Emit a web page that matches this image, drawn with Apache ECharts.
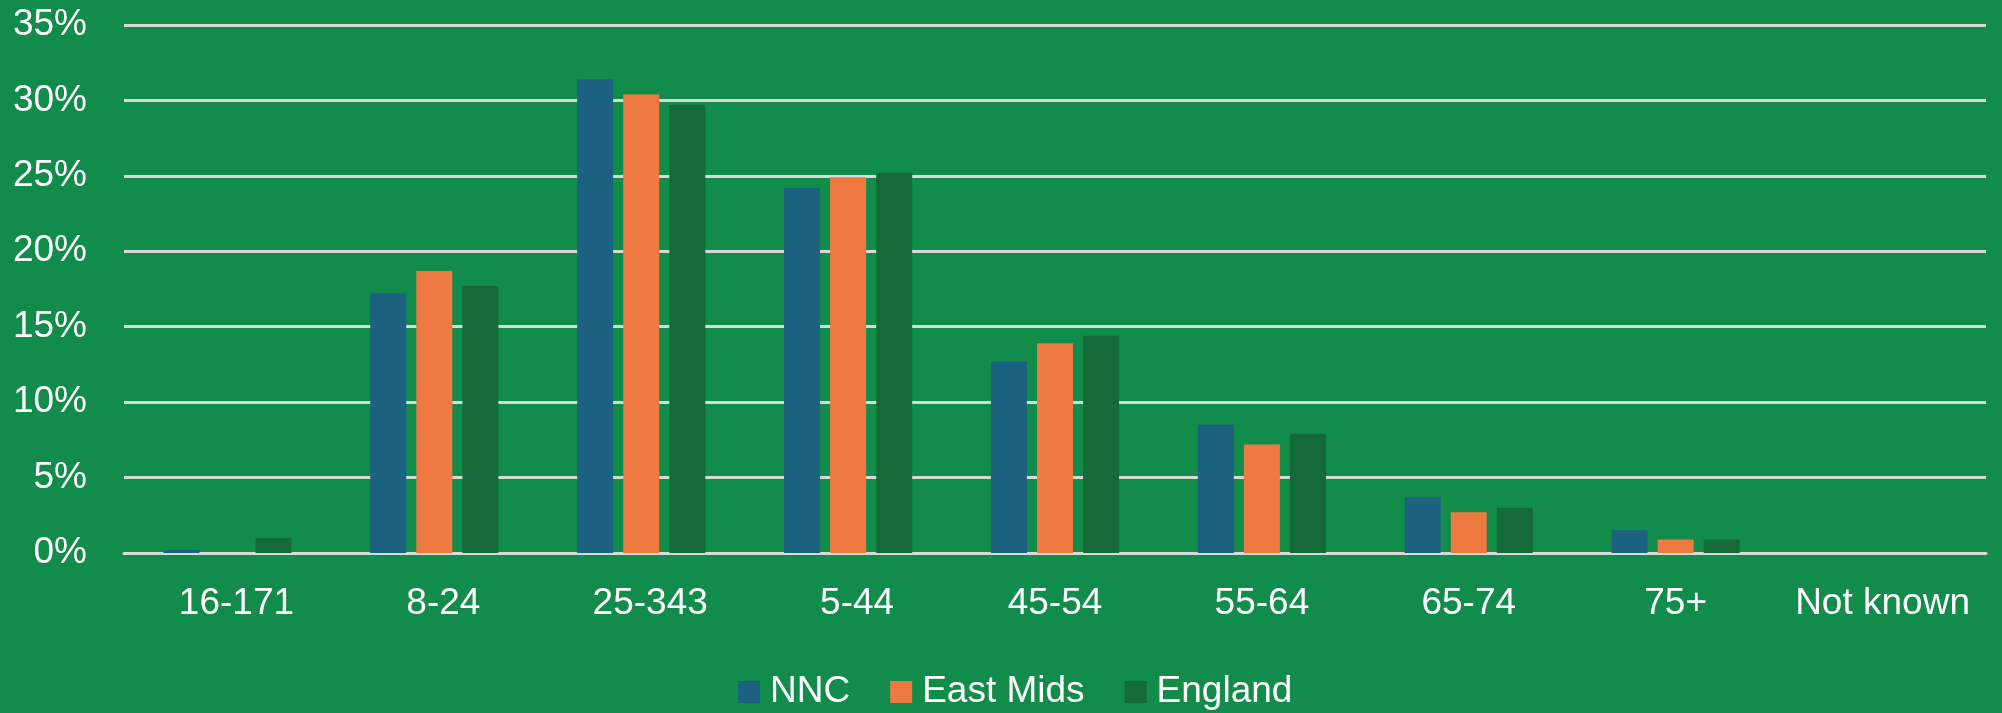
<!DOCTYPE html>
<html>
<head>
<meta charset="utf-8">
<script src="https://cdn.jsdelivr.net/npm/echarts@6/dist/echarts.min.js"></script>
<style>
  html, body { margin: 0; padding: 0; background: #118C4A; }
  #chart { width: 2002px; height: 713px; }
</style>
</head>
<body>
<div id="chart"></div>
<script>
// Age bands
const categories = ['16-171', '8-24', '25-343', '5-44', '45-54', '55-64', '65-74', '75+', 'Not known'];
// Bands whose label sits a little right of the tick centre
const shiftedLabels = ['16-171', '8-24', '25-343', '5-44'];

// Share of population in each band (%)
const nncValues      = [0.2, 17.2, 31.4, 24.2, 12.7, 8.5, 3.7, 1.5, 0];
const eastMidsValues = [0.0, 18.7, 30.4, 24.9, 13.9, 7.2, 2.7, 0.9, 0];
const englandValues  = [1.0, 17.7, 29.7, 25.2, 14.4, 7.9, 3.0, 0.9, 0];

// Y-axis ticks (%)
const yTicks = [0, 5, 10, 15, 20, 25, 30, 35];

const font = 'Liberation Sans, Arial, sans-serif';
const colors = { nnc: '#1C6280', eastMids: '#EE7A42', england: '#146B37' };

const xData = categories.map(c => shiftedLabels.includes(c)
  ? { value: c, textStyle: { padding: [0, 0, 0, 18] } }
  : c);

const chart = echarts.init(document.getElementById('chart'), null, { renderer: 'canvas' });

chart.setOption({
  backgroundColor: '#118C4A',
  animation: false,
  grid: { left: 124, right: 16, top: 25, bottom: 160, containLabel: false },
  legend: {
    top: 672,
    left: 738,
    padding: 0,
    itemWidth: 22,
    itemHeight: 22,
    itemGap: 40,
    icon: 'rect',
    textStyle: { color: '#FFFFFF', fontSize: 37, lineHeight: 40, fontFamily: font, padding: [0, 0, 0, 5] },
    data: ['NNC', 'East Mids', 'England']
  },
  xAxis: {
    type: 'category',
    data: xData,
    axisLine: { show: true, lineStyle: { color: '#D9D9D9', width: 3 } },
    axisTick: { show: false },
    axisLabel: { color: '#FFFFFF', fontSize: 37, fontFamily: font, margin: 32, interval: 0 }
  },
  yAxis: {
    type: 'value',
    min: yTicks[0],
    max: yTicks[yTicks.length - 1],
    interval: yTicks[1] - yTicks[0],
    axisLine: { show: false },
    axisTick: { show: false },
    axisLabel: { color: '#FFFFFF', fontSize: 37, fontFamily: font, margin: 37, formatter: v => v + '%' },
    splitLine: { lineStyle: { color: '#D9D9D9', width: 3 } }
  },
  series: [
    { name: 'NNC', type: 'bar', data: nncValues, barWidth: 36, barGap: '28%', barCategoryGap: '38%', itemStyle: { color: colors.nnc } },
    { name: 'East Mids', type: 'bar', data: eastMidsValues, barWidth: 36, barGap: '28%', itemStyle: { color: colors.eastMids } },
    { name: 'England', type: 'bar', data: englandValues, barWidth: 36, barGap: '28%', itemStyle: { color: colors.england } }
  ]
});
</script>
</body>
</html>
